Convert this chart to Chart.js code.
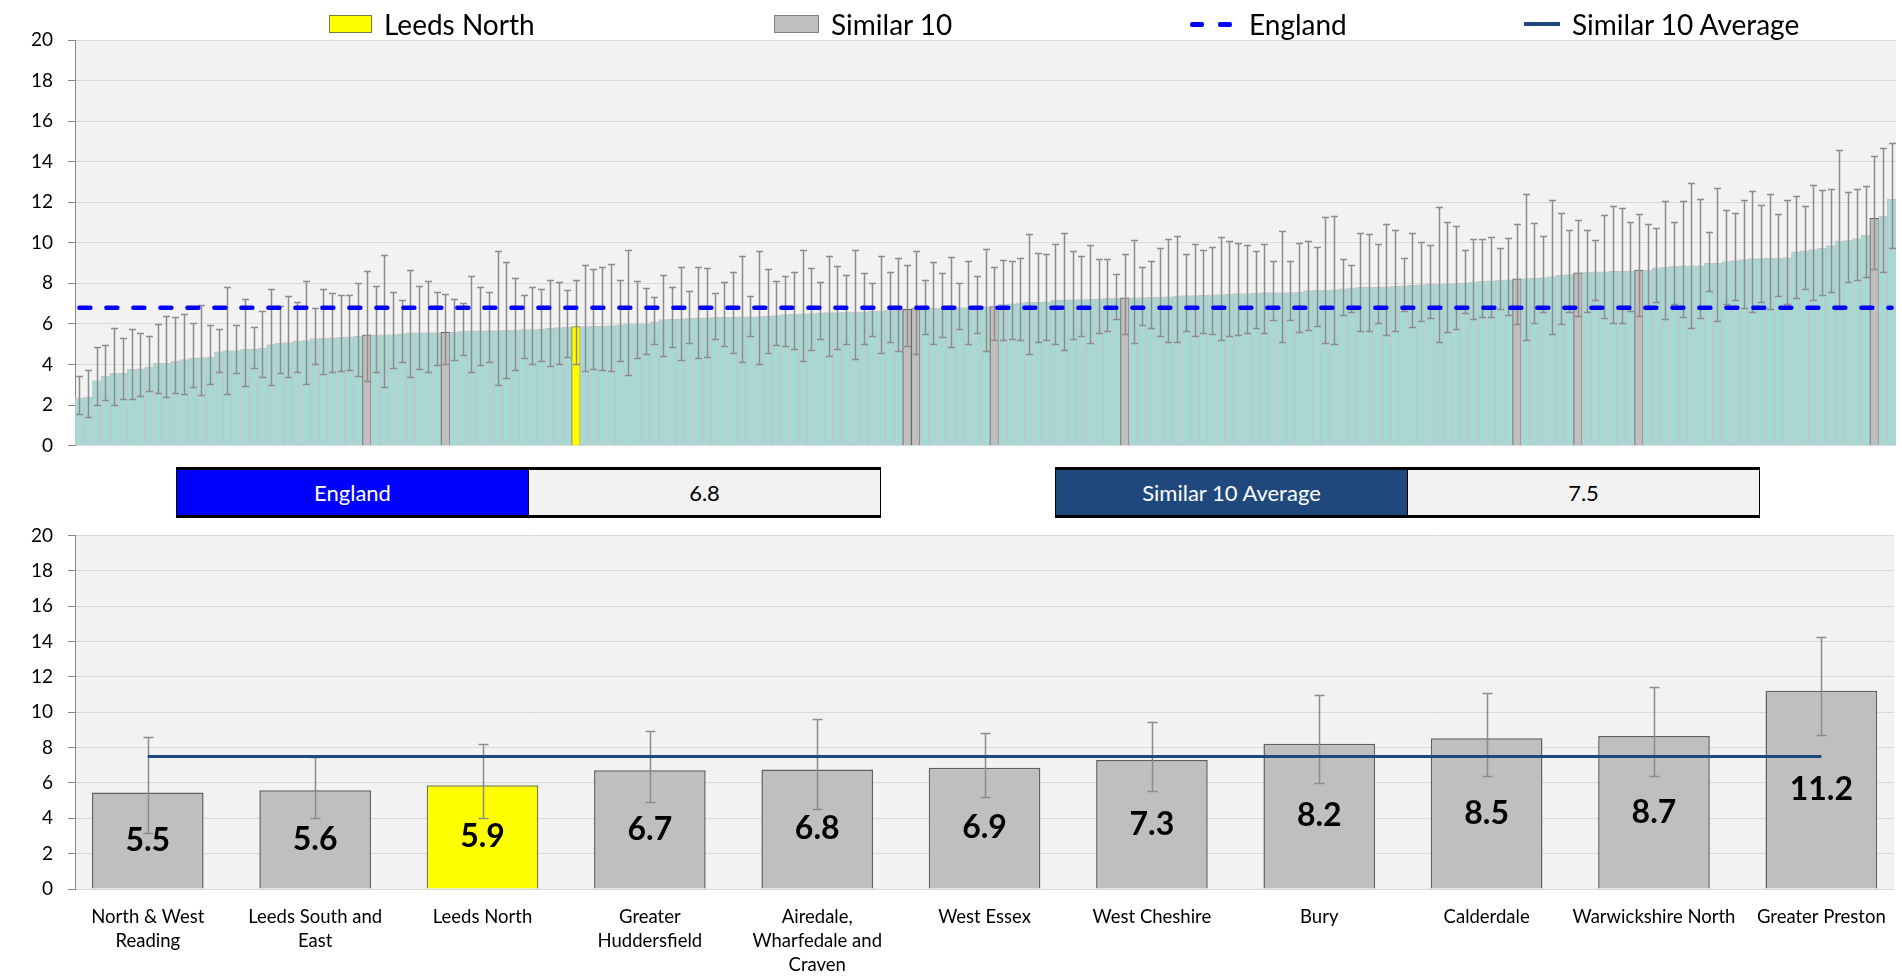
<!DOCTYPE html>
<html>
<head>
<meta charset="utf-8">
<script src="https://cdn.jsdelivr.net/npm/chart.js@4.4.1/dist/chart.umd.min.js"></script>
<style>
  body { margin: 0; background: #fff; font-family: Lato, sans-serif; }
  #page { position: relative; width: 1902px; height: 976px; overflow: hidden; }
  canvas { position: absolute; left: 0; }
  #topChart { top: 0; }
  #bottomChart { top: 509px; }
  .leg { position: absolute; top: 7px; height: 34px; display: flex; align-items: center; font-size: 28px; color: #000; white-space: nowrap; }
  .leg .sw { display: inline-block; margin-right: 12px; box-sizing: border-box; }
  .leg .dash { display: inline-block; width: 14px; height: 5px; border-radius: 2px; background: #0000FF; margin-right: 14px; }
  .info { position: absolute; top: 467px; height: 51px; display: flex; border-top: 3px solid #000; border-bottom: 3px solid #000; box-sizing: border-box; }
  .info div { width: 351px; display: flex; align-items: center; justify-content: center; font-size: 22px; border-left: 1px solid #000; }
  .info div:last-child { border-right: 1px solid #000; background: #F2F2F2; color: #000; }
  .info .lab { color: #fff; }
</style>
</head>
<body>
<div id="page">
  <canvas id="topChart" width="1902" height="472"></canvas>
  <canvas id="bottomChart" width="1902" height="467"></canvas>

  <div class="leg" style="left:329px"><span class="sw" style="width:43px;height:18px;background:#FFFF00;border:1px solid #7a7a40"></span>Leeds North</div>
  <div class="leg" style="left:774px"><span class="sw" style="width:45px;height:18px;background:#BFBFBF;border:1px solid #7f7f7f"></span>Similar 10</div>
  <div class="leg" style="left:1190px"><span class="dash"></span><span class="dash" style="margin-right:17px"></span>England</div>
  <div class="leg" style="left:1524px"><span class="sw" style="width:36px;height:0;border-top:4px solid #1F497D"></span>Similar 10 Average</div>

  <div class="info" style="left:176px"><div class="lab" style="background:#0000FF">England</div><div id="engVal"></div></div>
  <div class="info" style="left:1055px"><div class="lab" style="background:#1F497D">Similar 10 Average</div><div id="simVal"></div></div>
</div>

<script>
// all CCGs, ranked low to high
var ccgValues = [
  2.36, 2.39, 3.20, 3.43, 3.56, 3.58, 3.76, 3.79, 3.89, 4.06,
  4.06, 4.15, 4.24, 4.30, 4.34, 4.35, 4.62, 4.68, 4.68, 4.75,
  4.75, 4.80, 4.98, 5.05, 5.08, 5.16, 5.18, 5.28, 5.29, 5.31,
  5.34, 5.36, 5.39, 5.46, 5.46, 5.46, 5.47, 5.51, 5.56, 5.56,
  5.57, 5.57, 5.58, 5.58, 5.64, 5.66, 5.66, 5.67, 5.67, 5.69,
  5.70, 5.72, 5.72, 5.75, 5.80, 5.82, 5.84, 5.87, 5.87, 5.88,
  5.89, 5.92, 5.95, 6.00, 6.00, 6.02, 6.10, 6.22, 6.23, 6.25,
  6.28, 6.30, 6.30, 6.32, 6.32, 6.33, 6.35, 6.35, 6.36, 6.38,
  6.41, 6.46, 6.48, 6.50, 6.51, 6.55, 6.56, 6.56, 6.58, 6.58,
  6.60, 6.63, 6.64, 6.68, 6.69, 6.72, 6.76, 6.76, 6.78, 6.78,
  6.79, 6.80, 6.81, 6.83, 6.84, 6.86, 6.97, 6.99, 7.04, 7.06,
  7.07, 7.09, 7.17, 7.19, 7.19, 7.20, 7.21, 7.24, 7.27, 7.27,
  7.29, 7.29, 7.30, 7.31, 7.32, 7.34, 7.39, 7.40, 7.40, 7.42,
  7.44, 7.45, 7.47, 7.49, 7.50, 7.52, 7.54, 7.54, 7.55, 7.55,
  7.57, 7.65, 7.67, 7.67, 7.68, 7.73, 7.78, 7.80, 7.82, 7.82,
  7.83, 7.86, 7.88, 7.91, 7.93, 7.95, 7.96, 7.98, 8.00, 8.03,
  8.06, 8.10, 8.13, 8.15, 8.18, 8.22, 8.24, 8.25, 8.29, 8.34,
  8.41, 8.43, 8.52, 8.56, 8.57, 8.57, 8.59, 8.59, 8.62, 8.66,
  8.66, 8.77, 8.79, 8.84, 8.87, 8.87, 8.87, 8.99, 8.99, 9.08,
  9.12, 9.17, 9.22, 9.22, 9.25, 9.25, 9.27, 9.56, 9.60, 9.66,
  9.73, 9.86, 10.09, 10.11, 10.21, 10.37, 11.21, 11.31, 12.15
];
var ccgLower = [
  1.55, 1.42, 1.98, 2.23, 2.01, 2.31, 2.31, 2.47, 2.69, 2.61,
  2.42, 2.57, 2.56, 2.89, 2.51, 3.05, 3.63, 2.56, 3.58, 2.95,
  3.81, 3.36, 3.00, 3.58, 3.36, 3.64, 3.05, 4.02, 3.51, 3.61,
  3.68, 3.73, 3.43, 3.18, 3.63, 2.89, 3.83, 4.11, 3.36, 3.76,
  3.61, 3.96, 4.02, 4.22, 4.47, 3.64, 3.97, 4.14, 3.00, 3.35,
  3.74, 4.32, 4.04, 4.16, 3.94, 4.02, 4.39, 4.02, 3.66, 3.79,
  3.71, 3.68, 4.16, 3.46, 4.32, 4.53, 5.03, 4.44, 4.86, 4.22,
  5.08, 4.34, 4.35, 5.28, 4.91, 4.58, 4.14, 5.42, 4.01, 4.55,
  4.98, 4.91, 4.78, 4.17, 4.70, 5.26, 4.44, 4.75, 5.01, 4.25,
  5.03, 5.42, 4.55, 5.09, 4.67, 4.93, 4.53, 5.51, 5.00, 5.36,
  4.86, 5.74, 5.01, 5.57, 4.68, 5.23, 5.21, 5.24, 5.19, 4.53,
  5.13, 5.19, 5.00, 4.70, 5.24, 5.39, 5.08, 5.57, 5.64, 6.22,
  5.52, 5.08, 5.97, 5.79, 5.38, 5.09, 5.13, 5.66, 5.39, 5.57,
  5.49, 5.21, 5.39, 5.46, 5.56, 5.80, 5.56, 6.20, 5.09, 6.18,
  5.59, 5.69, 5.90, 5.06, 5.01, 6.43, 6.60, 5.66, 5.67, 6.03,
  5.47, 5.67, 6.64, 5.84, 6.15, 6.30, 5.13, 5.59, 5.77, 6.56,
  6.25, 6.33, 6.33, 6.73, 6.46, 6.02, 5.21, 6.07, 6.58, 5.49,
  6.00, 6.61, 6.40, 6.61, 7.16, 6.30, 6.05, 6.07, 6.64, 6.38,
  6.73, 7.09, 6.22, 6.99, 6.33, 5.82, 6.30, 7.60, 6.15, 6.99,
  7.17, 6.79, 6.61, 7.07, 6.73, 7.40, 6.99, 7.29, 7.73, 7.17,
  7.42, 7.57, 6.76, 8.05, 8.15, 8.33, 8.71, 8.56, 9.74
];
var ccgUpper = [
  3.45, 3.73, 4.86, 4.96, 5.80, 5.29, 5.75, 5.56, 5.38, 6.00,
  6.38, 6.33, 6.51, 6.03, 6.91, 5.95, 5.77, 7.83, 5.97, 7.21,
  5.85, 6.64, 7.72, 6.89, 7.37, 7.09, 8.11, 6.79, 7.70, 7.52,
  7.44, 7.44, 8.03, 8.61, 7.86, 9.41, 7.55, 7.19, 8.64, 7.86,
  8.11, 7.58, 7.47, 7.25, 7.04, 8.38, 7.80, 7.58, 9.60, 9.04,
  8.28, 7.44, 7.80, 7.70, 8.19, 8.08, 7.68, 8.19, 8.92, 8.72,
  8.82, 8.97, 8.16, 9.65, 8.13, 7.77, 7.35, 8.39, 7.83, 8.82,
  7.63, 8.82, 8.77, 7.52, 8.05, 8.54, 9.33, 7.40, 9.60, 8.69,
  8.11, 8.36, 8.57, 9.65, 8.77, 8.08, 9.33, 8.85, 8.43, 9.66,
  8.49, 8.01, 9.37, 8.56, 9.27, 8.92, 9.61, 8.16, 9.05, 8.52,
  9.30, 8.03, 9.10, 8.34, 9.70, 8.80, 9.15, 9.08, 9.25, 10.44,
  9.50, 9.45, 9.96, 10.49, 9.61, 9.37, 9.88, 9.20, 9.20, 8.47,
  9.46, 10.14, 8.82, 9.12, 9.76, 10.17, 10.32, 9.45, 9.96, 9.66,
  9.79, 10.29, 10.07, 9.99, 9.88, 9.61, 9.96, 9.08, 10.59, 9.12,
  10.01, 10.09, 9.78, 11.29, 11.34, 9.22, 8.92, 10.49, 10.44, 9.96,
  10.95, 10.65, 9.27, 10.49, 10.06, 9.88, 11.77, 11.01, 10.85, 9.66,
  10.17, 10.19, 10.27, 9.74, 10.26, 10.95, 12.42, 10.96, 10.34, 12.09,
  11.49, 10.62, 11.10, 10.65, 10.16, 11.38, 11.79, 11.74, 11.05, 11.44,
  10.92, 10.73, 12.07, 11.03, 12.04, 12.94, 12.15, 10.54, 12.68, 11.61,
  11.49, 12.12, 12.55, 11.84, 12.42, 11.43, 12.09, 12.33, 11.81, 12.83,
  12.58, 12.63, 14.56, 12.51, 12.65, 12.78, 14.26, 14.69, 14.91
];

// the similar 10 plus Leeds North, with their rank position in the list above
var similarNames = [
  ["North & West", "Reading"], ["Leeds South and", "East"], ["Leeds North"],
  ["Greater", "Huddersfield"], ["Airedale,", "Wharfedale and", "Craven"], ["West Essex"],
  ["West Cheshire"], ["Bury"], ["Calderdale"], ["Warwickshire North"], ["Greater Preston"]
];
var similarRanks = [33, 42, 57, 95, 96, 105, 120, 165, 172, 179, 206];
var leedsNorthRank = 57;

var englandValue = 6.8;
var similarAverage = 7.5;
var yTicks = [0, 2, 4, 6, 8, 10, 12, 14, 16, 18, 20];

var teal = '#A7D9D4', grey = '#BFBFBF', yellow = '#FFFF00';

document.getElementById('engVal').textContent = englandValue.toFixed(1);
document.getElementById('simVal').textContent = similarAverage.toFixed(1);

var plotBg = {
  id: 'plotBg',
  beforeDraw: function (chart) {
    var a = chart.chartArea, ctx = chart.ctx;
    ctx.save();
    ctx.fillStyle = '#F2F2F2';
    ctx.fillRect(a.left, a.top, a.right - a.left, a.bottom - a.top);
    ctx.restore();
  }
};

var errorBars = {
  id: 'errorBars',
  afterDatasetDraw: function (chart, args, opts) {
    if (args.index !== 0 || !opts.lower) return;
    var y = chart.scales.y, ctx = chart.ctx;
    ctx.save();
    ctx.strokeStyle = '#8C8C8C';
    ctx.lineWidth = opts.width;
    args.meta.data.forEach(function (bar, i) {
      var lo = Math.round(y.getPixelForValue(opts.lower[i])) + 0.5;
      var hi = Math.round(y.getPixelForValue(opts.upper[i])) + 0.5;
      var x = Math.round(bar.x) + 0.5;
      ctx.beginPath();
      ctx.moveTo(x, lo); ctx.lineTo(x, hi);
      ctx.moveTo(x - opts.cap, lo); ctx.lineTo(x + opts.cap, lo);
      ctx.moveTo(x - opts.cap, hi); ctx.lineTo(x + opts.cap, hi);
      ctx.stroke();
    });
    ctx.restore();
  }
};

var barLabels = {
  id: 'barLabels',
  afterDatasetsDraw: function (chart, args, opts) {
    if (!opts.show) return;
    var ctx = chart.ctx, data = chart.data.datasets[0].data;
    ctx.save();
    ctx.font = 'bold 32px Lato';
    ctx.fillStyle = '#000';
    ctx.textAlign = 'center';
    ctx.textBaseline = 'middle';
    chart.getDatasetMeta(0).data.forEach(function (bar, i) {
      ctx.fillText(data[i].y.toFixed(1), bar.x, (bar.y + bar.base) / 2);
    });
    ctx.restore();
  }
};

Chart.register(plotBg, errorBars, barLabels);

function yAxis() {
  return {
    min: 0, max: 20,
    afterFit: function (s) { s.width = 75; },
    afterBuildTicks: function (s) { s.ticks = yTicks.map(function (v) { return { value: v }; }); },
    border: { color: '#868686', width: 1 },
    grid: { color: '#D9D9D9', lineWidth: 1, tickColor: '#868686', tickLength: 7 },
    ticks: { font: { family: 'Lato', size: 19 }, color: '#000', padding: 15 }
  };
}

// top chart: every CCG
var ranks = ccgValues.map(function (v, i) { return String(i + 1); });
var topColors = ccgValues.map(function (v, i) {
  return i === leedsNorthRank ? yellow : (similarRanks.indexOf(i) >= 0 ? grey : teal);
});
var topBorders = ccgValues.map(function (v, i) {
  return i === leedsNorthRank ? '#7a7a40' : (similarRanks.indexOf(i) >= 0 ? '#5f5f5f' : '#C4C4C4');
});

new Chart(document.getElementById('topChart'), {
  data: {
    labels: ranks,
    datasets: [{
      type: 'bar',
      data: ccgValues,
      backgroundColor: topColors,
      borderColor: topBorders,
      borderWidth: 1,
      barPercentage: 1,
      categoryPercentage: 1,
      order: 1
    }, {
      type: 'line',
      data: [{ x: ranks[0], y: englandValue }, { x: ranks[ranks.length - 1], y: englandValue }],
      borderColor: '#0000FF',
      borderWidth: 4.5,
      borderDash: [11, 16],
      borderCapStyle: 'round',
      pointRadius: 0,
      order: 0
    }]
  },
  options: {
    responsive: false,
    animation: false,
    layout: { padding: { top: 40, right: 6, bottom: 12, left: 0 } },
    scales: {
      x: { display: false },
      y: yAxis()
    },
    plugins: {
      legend: { display: false },
      tooltip: { enabled: false },
      errorBars: { lower: ccgLower, upper: ccgUpper, cap: 3.5, width: 1.5 }
    }
  }
});

// bottom chart: the similar 10 and Leeds North
var simPoints = similarRanks.map(function (r, i) { return { x: i, y: ccgValues[r] }; });
var simLower = similarRanks.map(function (r) { return ccgLower[r]; });
var simUpper = similarRanks.map(function (r) { return ccgUpper[r]; });
var simColors = similarRanks.map(function (r) { return r === leedsNorthRank ? yellow : grey; });
var simBorders = similarRanks.map(function (r) { return r === leedsNorthRank ? '#7a7a40' : '#5f5f5f'; });

new Chart(document.getElementById('bottomChart'), {
  data: {
    datasets: [{
      type: 'bar',
      data: simPoints,
      backgroundColor: simColors,
      borderColor: simBorders,
      borderWidth: 1.5,
      barPercentage: 0.667,
      categoryPercentage: 1,
      order: 1
    }, {
      type: 'line',
      data: [{ x: 0, y: similarAverage }, { x: similarNames.length - 1, y: similarAverage }],
      borderColor: '#1F497D',
      borderWidth: 3,
      pointRadius: 0,
      order: 0
    }]
  },
  options: {
    responsive: false,
    animation: false,
    layout: { padding: { top: 14, right: 6, bottom: 0, left: 0 } },
    scales: {
      x: {
        type: 'linear',
        offset: false,
        min: -0.435,
        max: similarNames.length - 1 + 0.435,
        afterBuildTicks: function (s) { s.ticks = similarNames.map(function (n, i) { return { value: i }; }); },
        afterFit: function (s) { s.height = 87; },
        border: { display: false },
        grid: { display: false, drawTicks: false },
        ticks: {
          font: { family: 'Lato', size: 18.5, lineHeight: 1.3 }, color: '#000', padding: 16,
          maxRotation: 0, autoSkip: false,
          callback: function (v) { return similarNames[v]; }
        }
      },
      y: yAxis()
    },
    plugins: {
      legend: { display: false },
      tooltip: { enabled: false },
      errorBars: { lower: simLower, upper: simUpper, cap: 5, width: 1.5 },
      barLabels: { show: true }
    }
  }
});
</script>
</body>
</html>
